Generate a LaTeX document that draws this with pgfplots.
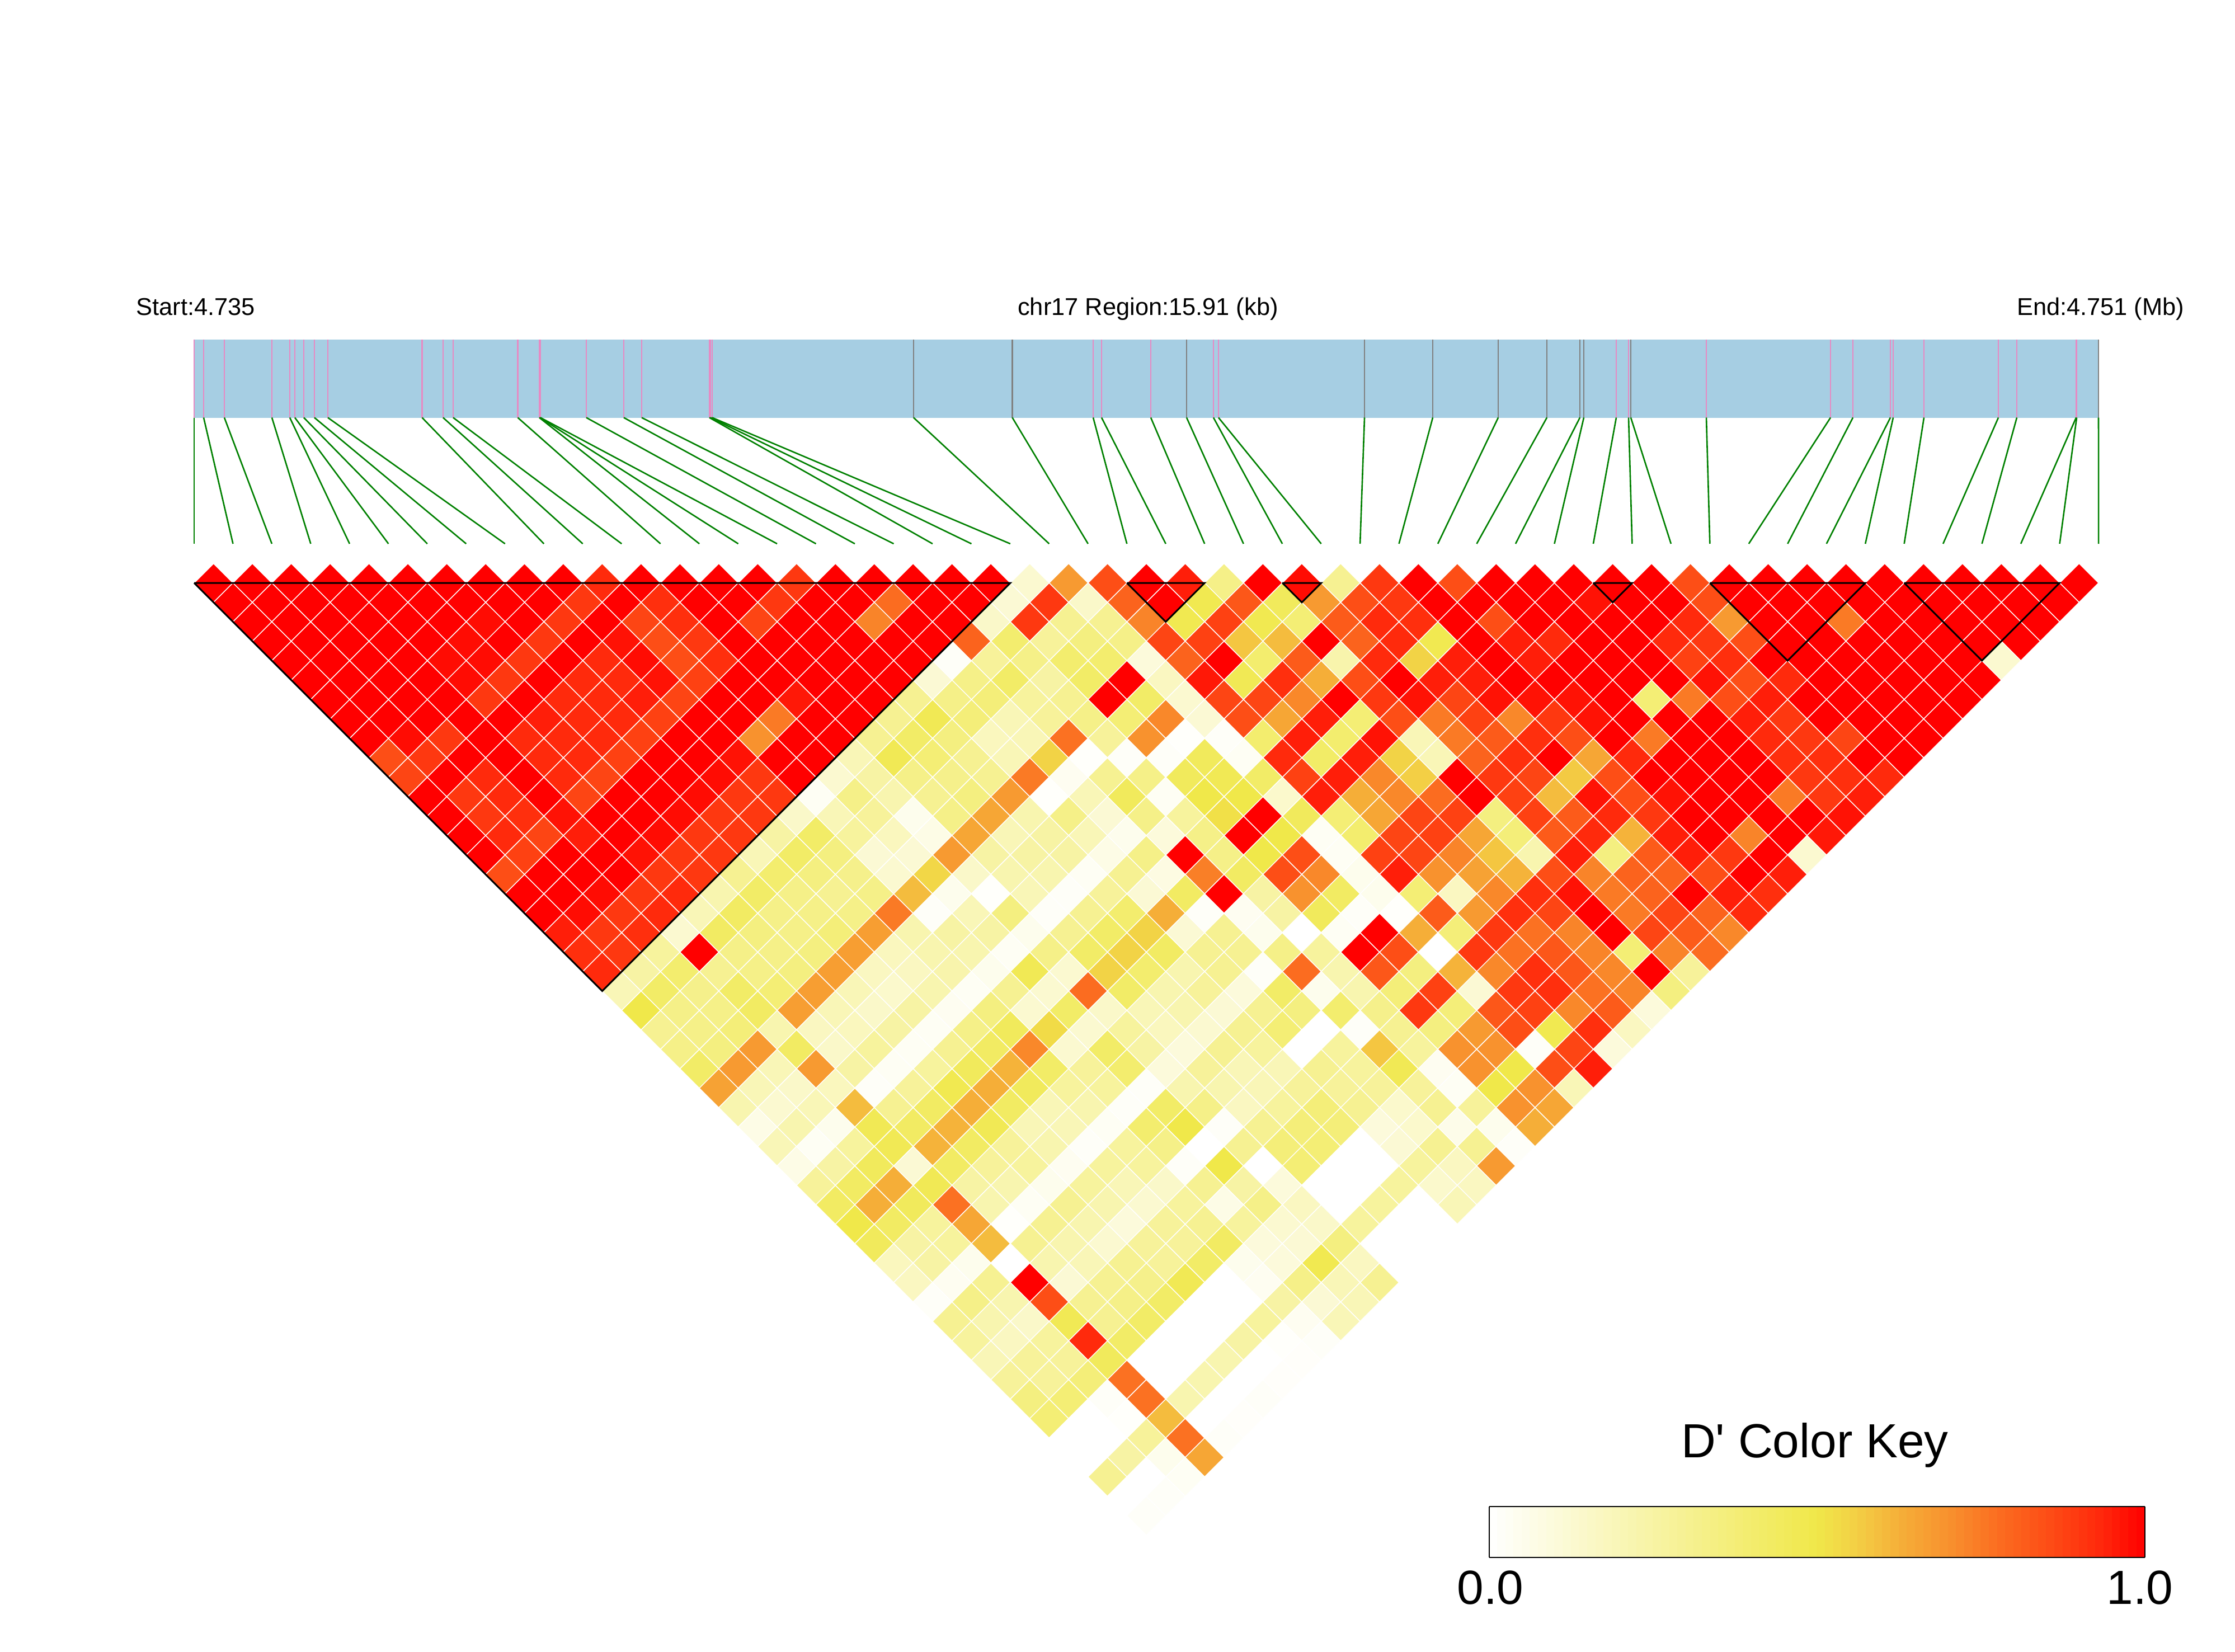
\documentclass[border=0pt]{standalone}
\usepackage{fontspec}
\setmainfont[Ligatures=TeXOff]{Liberation Sans}
\usepackage{pgfplots}
\pgfplotsset{compat=1.18}
\usepackage{pgfplotstable}
\usetikzlibrary{calc}

\definecolor{barblue}{HTML}{A6CEE3}
\definecolor{tickpink}{HTML}{E78AC3}
\definecolor{tickgrey}{HTML}{808080}
\definecolor{linkgreen}{HTML}{008000}

\pgfplotsset{
  colormap={ld}{rgb255(0)=(255,255,255) rgb255(50)=(240,232,74) rgb255(56)=(243,207,69)
    rgb255(63)=(245,174,56) rgb255(70)=(248,146,46) rgb255(78)=(251,108,32)
    rgb255(86)=(253,74,21) rgb255(93)=(255,42,12) rgb255(100)=(255,0,0)},
  ld cell/.style={scatter, only marks, forget plot, scatter src=explicit,
    mark=square*, mark size=6.14pt,
    mark options={rotate=45, line width=0.35pt},
    scatter/use mapped color={draw=white, fill=mapped color}},
}

% one row of the LD triangle: #1 = SNP distance, #2 = D' values from left to right
\newcommand{\ldrow}[2]{%
  \addplot[ld cell] table[row sep=crcr, header=false, meta index=0,
    x expr=347+34.735*#1+69.47*\coordindex, y expr=1042+34.735*(#1-1)] {#2};}

% SNP, position on the bar (px)
\pgfplotstableread{
snp bar
1 347
2 364
3 401
4 486
5 518
6 527
7 543
8 562
9 586
10 754.5
11 792
12 810
13 925.5
14 964
15 965
16 966
17 1048
18 1115
19 1147
20 1268
21 1270
22 1273
23 1633
24 1809.5
25 1954
26 1969
27 2057
28 2121
29 2169
30 2178
31 2439
32 2561
33 2678
34 2765
35 2824
36 2831
37 2889
38 2911
39 2915
40 3050
41 3272
42 3312
43 3379
44 3384
45 3439
46 3572
47 3605
48 3711
49 3712
50 3751
}\snps

\begin{document}
\begin{tikzpicture}
\useasboundingbox (0,0) rectangle (998.75pt,738.25pt);
\begin{axis}[
  at={(0,0)}, anchor=south west,
  width=998.75pt, height=738.25pt, scale only axis,
  xmin=0, xmax=3995, ymin=0, ymax=2953, y dir=reverse,
  hide axis, clip marker paths=true,
  colormap name=ld, point meta min=0, point meta max=1,
  colorbar sampled, colorbar horizontal,
  colorbar style={
    samples=81,
    at={($(parent axis.south west)+(665.5pt,50.8pt)$)}, anchor=south west,
    width=293pt, height=22.75pt,
    xtick=\empty, ytick=\empty,
    axis line style={line width=0.6pt},
  },
]

% region bar
\addplot[fill=barblue, draw=none, forget plot] coordinates {(347,607.5) (3751,607.5) (3751,746.5) (347,746.5)} -- cycle;

% SNP ticks on the bar
\addplot[tickpink, line width=0.55pt, forget plot, quiver={u=0, v=139}, no marks] table[x=bar, y expr=607.5] {\snps};
\addplot[tickgrey, line width=0.55pt, forget plot, quiver={u=0, v=139}, no marks] table[x=bar, y expr=607.5] {
bar
1633
1809.5
2121
2439
2561
2678
2765
2824
2831
2915
3751
};

% links from the bar to the evenly spaced SNPs
\addplot[linkgreen, line width=0.65pt, forget plot, no marks,
  quiver={u={347+69.47*(\thisrow{snp}-1)-\thisrow{bar}}, v=225.5}] table[x=bar, y expr=746.5] {\snps};

% D' values, row by row
\ldrow{1}{1\\1\\1\\1\\1\\1\\1\\1\\1\\1\\.93\\1\\1\\1\\1\\.9\\1\\1\\1\\1\\1\\.13\\.68\\.85\\1\\.95\\.33\\1\\.98\\.3\\.9\\1\\.85\\1\\1\\1\\1\\1\\.85\\1\\1\\1\\1\\1\\1\\1\\1\\1\\1\\}
\ldrow{2}{1\\1\\1\\1\\1\\1\\1\\1\\1\\.9\\1\\.92\\1\\1\\.9\\1\\1\\.78\\1\\1\\.12\\.9\\.15\\.8\\1\\.48\\.83\\.45\\.68\\.85\\.9\\1\\1\\1\\1\\.97\\1\\1\\.85\\1\\1\\1\\1\\1\\1\\1\\1\\1\\}
\ldrow{3}{1\\1\\1\\1\\1\\1\\.98\\1\\.9\\1\\.87\\.92\\1\\.87\\1\\1\\.73\\1\\1\\.15\\.9\\.3\\.3\\.73\\.48\\.88\\.48\\.38\\.82\\.93\\.92\\1\\.85\\1\\1\\1\\1\\.93\\.68\\1\\1\\.75\\1\\1\\1\\1\\1\\}
\ldrow{4}{1\\1\\1\\1\\1\\.98\\1\\.9\\1\\.97\\.85\\.9\\1\\1\\1\\1\\1\\1\\.8\\.4\\.28\\.35\\.33\\.87\\.88\\.58\\.6\\1\\.8\\.93\\.48\\1\\.95\\.93\\1\\1\\.93\\.9\\.85\\1\\1\\1\\1\\1\\1\\1\\}
\ldrow{5}{1\\1\\1\\1\\.98\\.98\\.9\\1\\.93\\.98\\.85\\.92\\1\\1\\1\\1\\1\\.02\\.28\\.33\\.4\\.4\\.1\\.8\\1\\.4\\.82\\.23\\.93\\.55\\.95\\1\\.95\\1\\1\\1\\.88\\.92\\1\\1\\1\\1\\1\\1\\.13\\}
\ldrow{6}{1\\1\\1\\1\\.98\\.9\\1\\.93\\.93\\.97\\.88\\1\\1\\1\\1\\1\\.12\\.33\\.42\\.25\\.42\\1\\.17\\.96\\.47\\.92\\.63\\.85\\1\\.95\\.95\\1\\1\\1\\1\\1\\.97\\.85\\.93\\1\\1\\1\\1\\1\\}
\ldrow{7}{1\\1\\1\\1\\.9\\1\\.93\\.93\\.95\\.87\\1\\1\\.96\\1\\1\\.3\\.33\\.37\\.27\\.3\\1\\.42\\.13\\.87\\.87\\.72\\1\\.9\\.97\\.87\\.97\\.97\\.97\\1\\.38\\.75\\.85\\.95\\1\\1\\1\\1\\1\\}
\ldrow{8}{1\\1\\1\\1\\1\\.95\\.93\\.93\\.88\\1\\1\\.75\\1\\1\\.3\\.47\\.37\\.2\\.28\\.33\\.38\\.72\\.12\\.85\\.65\\.95\\.38\\.85\\.75\\.88\\.72\\.9\\.97\\1\\1\\1\\.95\\.9\\1\\1\\1\\1\\}
\ldrow{9}{1\\.98\\.9\\1\\.93\\.93\\.93\\.88\\1\\1\\.7\\1\\1\\.3\\.42\\.35\\.18\\.2\\.77\\.28\\.7\\.01\\.02\\.4\\.95\\.4\\.97\\.2\\.75\\.82\\.92\\.85\\1\\.75\\1\\1\\.93\\.9\\.87\\1\\1\\}
\ldrow{10}{.85\\.9\\1\\1\\.93\\.93\\.88\\1\\1\\.97\\1\\1\\.2\\.47\\.38\\.3\\.2\\.55\\.01\\.02\\.02\\.45\\.03\\.93\\.42\\.95\\.55\\.2\\.8\\.92\\1\\.65\\.93\\1\\1\\1\\.92\\.92\\1\\1\\}
\ldrow{11}{.87\\1\\.93\\1\\.93\\.87\\1\\1\\.98\\.9\\1\\.13\\.25\\.33\\.32\\.3\\.75\\.04\\.3\\.33\\.45\\.47\\.42\\.88\\.95\\.72\\.56\\1\\.9\\.87\\.57\\.85\\1\\1\\1\\1\\.9\\.92\\.93\\}
\ldrow{12}{1\\.9\\.93\\1\\.87\\1\\1\\.98\\.9\\.9\\.03\\.33\\.22\\.3\\.35\\.68\\.01\\.2\\.45\\.03\\.5\\.5\\.14\\.95\\.63\\.72\\.78\\1\\.88\\.6\\.97\\.85\\.97\\1\\1\\.75\\.9\\.95\\}
\ldrow{13}{1\\.9\\.92\\.97\\1\\1\\.98\\.9\\.9\\.15\\.2\\.28\\.05\\.33\\.65\\.22\\.33\\.12\\.33\\.27\\.52\\1\\.45\\.38\\.65\\.87\\.88\\.35\\.88\\.82\\.93\\.9\\1\\1\\1\\1\\.97\\}
\ldrow{14}{1\\.93\\.87\\.95\\1\\.98\\.9\\.9\\.25\\.42\\.27\\.18\\.07\\.65\\.2\\.25\\.2\\.05\\.1\\.33\\1\\.5\\.03\\.4\\.87\\.88\\.65\\.37\\.82\\.93\\.62\\.95\\1\\.73\\1\\.96\\}
\ldrow{15}{1\\.88\\1\\1\\.97\\.9\\.9\\.2\\.42\\.35\\.12\\.12\\.68\\.25\\.25\\.25\\.07\\.33\\1\\.33\\.5\\.85\\.03\\.88\\.87\\.73\\.58\\.22\\.95\\.35\\.82\\.95\\.9\\1\\.13\\}
\ldrow{16}{.85\\1\\1\\1\\.9\\.9\\.3\\.4\\.35\\.32\\.13\\.54\\.15\\.22\\.22\\.03\\.3\\.08\\.74\\.43\\.85\\.72\\.05\\.95\\.7\\.66\\.62\\.85\\.73\\.8\\.8\\.85\\1\\.95\\}
\ldrow{17}{1\\1\\.98\\.9\\.93\\.22\\.42\\.33\\.3\\.33\\.6\\.05\\.01\\.2\\.02\\.28\\.12\\.43\\1\\.25\\.7\\.43\\.05\\.38\\.17\\.72\\.92\\.97\\.75\\.8\\1\\.95\\.92\\}
\ldrow{18}{1\\.98\\.9\\.93\\.2\\.43\\.33\\.33\\.33\\.75\\.02\\.2\\.35\\.02\\.3\\.4\\.63\\.02\\.04\\.25\\.45\\.02\\.01\\.82\\.68\\.92\\.87\\1\\.75\\.87\\.8\\.93\\}
\ldrow{19}{.95\\.9\\.92\\.13\\.43\\.35\\.33\\.37\\.67\\.22\\.25\\.25\\.05\\.3\\.42\\.55\\.12\\.3\\.05\\0\\.03\\1\\.63\\.37\\.9\\.77\\.73\\1\\.87\\.82\\.72\\}
\ldrow{20}{.92\\.9\\.27\\1\\.33\\.33\\.35\\.67\\.18\\.22\\.22\\.03\\.33\\.42\\.55\\.43\\.3\\.3\\.33\\.27\\1\\.85\\0\\.9\\.77\\.83\\.73\\.38\\.73\\.78\\}
\ldrow{21}{.93\\.25\\.4\\.3\\.33\\.35\\.67\\.17\\.17\\.23\\.05\\.47\\.13\\.55\\.4\\.22\\.3\\.02\\.78\\.22\\.83\\.35\\.62\\.72\\.92\\.83\\.72\\1\\.28\\}
\ldrow{22}{.2\\.42\\.32\\.42\\.38\\.67\\.2\\.14\\.22\\.03\\.3\\.13\\.78\\.42\\.22\\.28\\.1\\.42\\.05\\.22\\.37\\.88\\.12\\.9\\.92\\.77\\.73\\.35\\}
\ldrow{23}{.5\\.33\\.33\\.43\\.67\\.2\\.15\\.25\\.04\\.35\\.13\\.42\\.15\\.2\\.22\\.12\\.3\\.35\\.4\\.32\\.9\\.37\\.83\\.88\\.72\\.82\\.1\\}
\ldrow{24}{.3\\.33\\.37\\.22\\.17\\.18\\.25\\.03\\.33\\.45\\.53\\.13\\.27\\.18\\.13\\.3\\.38\\0\\.02\\.3\\.35\\.68\\.85\\.48\\.92\\.17\\}
\ldrow{25}{.33\\.35\\.68\\.43\\.15\\.27\\.03\\.3\\.43\\.72\\.13\\.42\\.25\\.1\\.3\\.27\\0\\.27\\.58\\.27\\.7\\.7\\.02\\.87\\.1\\}
\ldrow{26}{.42\\.68\\.2\\.68\\.25\\.03\\.27\\.45\\.62\\.42\\.28\\.4\\.1\\.28\\.2\\.2\\.3\\.27\\.47\\.04\\.7\\.5\\.85\\.95\\}
\ldrow{27}{.66\\.2\\.15\\.18\\.02\\.28\\.48\\.63\\.45\\.27\\.27\\.02\\.22\\.22\\.2\\.28\\.28\\.28\\.28\\.03\\.5\\.7\\.2\\}
\ldrow{28}{.22\\.13\\.2\\.6\\.3\\.43\\.63\\.43\\.2\\.22\\.02\\.42\\.33\\.17\\.27\\.37\\.3\\.14\\.3\\.28\\.7\\.65\\}
\ldrow{29}{.07\\.22\\.05\\.47\\.43\\.62\\.47\\.2\\.2\\.03\\.4\\.5\\.02\\.3\\.37\\.37\\.1\\.14\\.06\\.05\\.63\\}
\ldrow{30}{.2\\.03\\.27\\.47\\.62\\.43\\.28\\.22\\.02\\.27\\.33\\0\\.3\\.37\\.38\\0\\.12\\.3\\.3\\.02\\}
\ldrow{31}{.07\\.25\\.45\\.12\\.43\\.28\\.27\\.04\\.27\\.27\\.02\\.5\\0\\.38\\0\\0\\.27\\.17\\.68\\}
\ldrow{32}{.28\\.43\\.63\\.47\\.25\\.22\\.05\\.27\\.2\\.15\\.3\\.25\\.1\\0\\0\\.27\\.14\\.17\\}
\ldrow{33}{.43\\.63\\.45\\.77\\.22\\.03\\.3\\.22\\.13\\.27\\.07\\.33\\.17\\0\\.27\\0\\.2\\}
\ldrow{34}{.5\\.43\\.27\\.65\\.01\\.3\\.22\\.1\\.28\\.3\\.27\\.13\\.15\\.27\\0\\0\\}
\ldrow{35}{.45\\.25\\.27\\.6\\.3\\.22\\.13\\.28\\.28\\.43\\.1\\.12\\.35\\0\\0\\}
\ldrow{36}{.18\\.25\\.05\\0\\.22\\.2\\.3\\.28\\.42\\.05\\.1\\.48\\.17\\0\\}
\ldrow{37}{.17\\.04\\.3\\1\\.12\\.3\\.32\\.47\\0\\.04\\.33\\.2\\.3\\}
\ldrow{38}{.02\\.33\\.22\\.85\\.3\\.33\\.42\\0\\0\\.25\\.12\\.2\\}
\ldrow{39}{.3\\.22\\.15\\.47\\.3\\.42\\0\\0\\.27\\.04\\.2\\}
\ldrow{40}{.27\\.17\\.27\\.93\\.42\\0\\0\\.25\\.01\\.02\\}
\ldrow{41}{.2\\.28\\.28\\.45\\0\\0\\.22\\0\\.015\\}
\ldrow{42}{.28\\.28\\.37\\.77\\0\\.22\\0\\.015\\}
\ldrow{43}{.35\\.38\\.02\\.77\\.22\\0\\.02\\}
\ldrow{44}{.38\\0\\.01\\.6\\0\\.015\\}
\ldrow{45}{0\\0\\.28\\.77\\.02\\}
\ldrow{46}{0\\.25\\.05\\.65\\}
\ldrow{47}{.3\\0\\.03\\}
\ldrow{48}{0\\.02\\}
\ldrow{49}{.02\\}

% haplotype blocks: m = position along the row axis, depth in rows
\addplot[black, line width=0.75pt, forget plot, no marks]
  table[x expr=347+34.735*\thisrow{m}, y expr=1042+34.735*\thisrow{depth}] {
m depth
0 0
42 0
21 21
0 0
};
\addplot[black, line width=0.75pt, forget plot, no marks]
  table[x expr=347+34.735*\thisrow{m}, y expr=1042+34.735*\thisrow{depth}] {
m depth
48 0
52 0
50 2
48 0
};
\addplot[black, line width=0.75pt, forget plot, no marks]
  table[x expr=347+34.735*\thisrow{m}, y expr=1042+34.735*\thisrow{depth}] {
m depth
56 0
58 0
57 1
56 0
};
\addplot[black, line width=0.75pt, forget plot, no marks]
  table[x expr=347+34.735*\thisrow{m}, y expr=1042+34.735*\thisrow{depth}] {
m depth
72 0
74 0
73 1
72 0
};
\addplot[black, line width=0.75pt, forget plot, no marks]
  table[x expr=347+34.735*\thisrow{m}, y expr=1042+34.735*\thisrow{depth}] {
m depth
78 0
86 0
82 4
78 0
};
\addplot[black, line width=0.75pt, forget plot, no marks]
  table[x expr=347+34.735*\thisrow{m}, y expr=1042+34.735*\thisrow{depth}] {
m depth
88 0
96 0
92 4
88 0
};

% labels
\node[anchor=base west, inner sep=0pt, font=\fontsize{10.85}{12}\selectfont] at (axis cs:243,564) {Start:4.735};
\node[anchor=base, inner sep=0pt, font=\fontsize{10.85}{12}\selectfont] at (axis cs:2052,564) {chr17 Region:15.91 (kb)};
\node[anchor=base east, inner sep=0pt, font=\fontsize{10.85}{12}\selectfont] at (axis cs:3905,564) {End:4.751 (Mb)};
\node[anchor=base, inner sep=0pt, font=\fontsize{21.4}{24}\selectfont] at (axis cs:3244,2605) {D' Color Key};
\node[anchor=base, inner sep=0pt, font=\fontsize{21.4}{24}\selectfont] at (axis cs:2664,2867) {0.0};
\node[anchor=base, inner sep=0pt, font=\fontsize{21.4}{24}\selectfont] at (axis cs:3825,2867) {1.0};

\end{axis}
\end{tikzpicture}
\end{document}
